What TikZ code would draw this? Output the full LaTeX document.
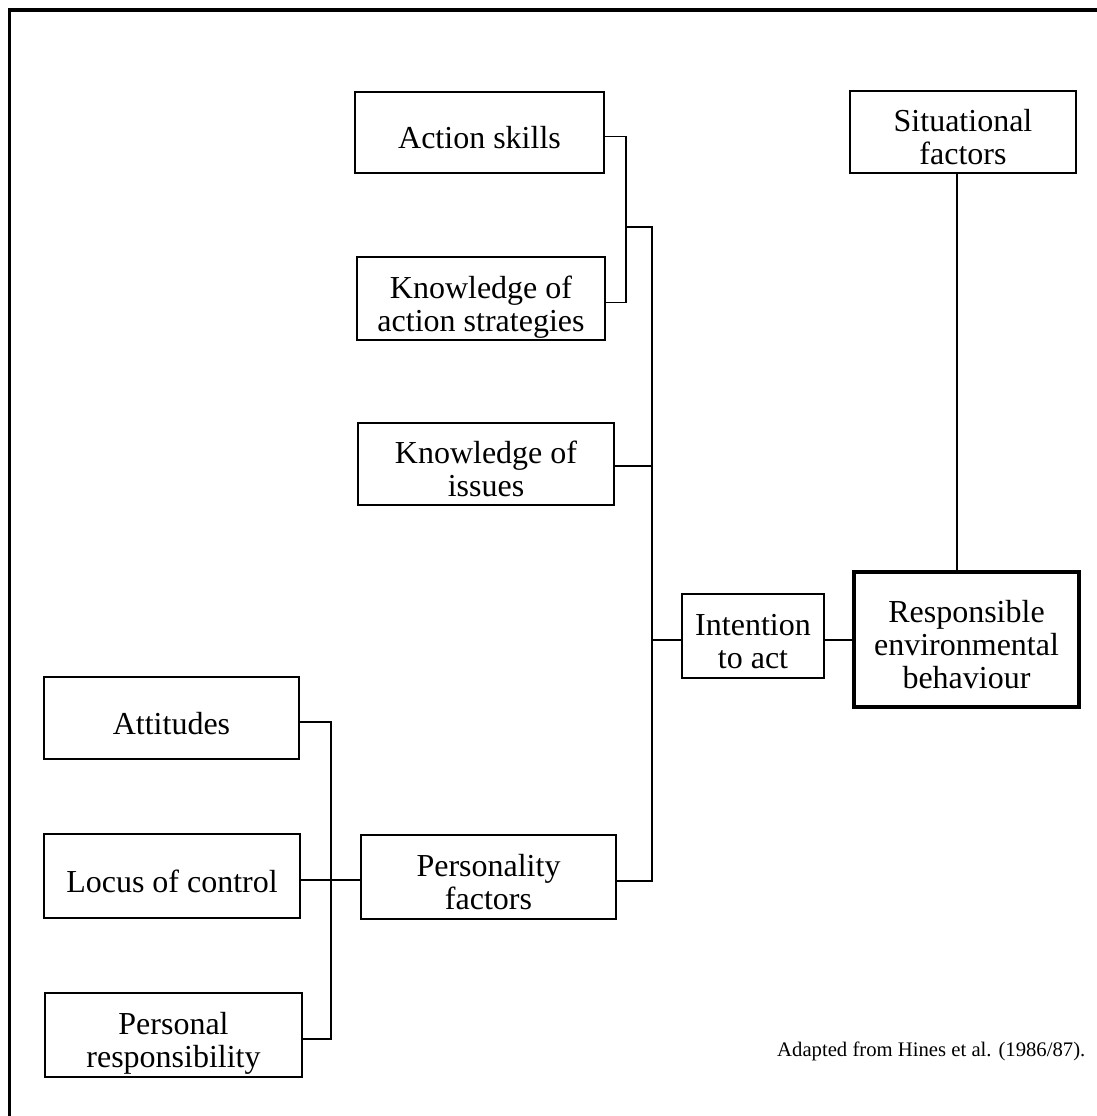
\documentclass[tikz,border=0pt]{standalone}
\usepackage{fontspec}
\setmainfont{Liberation Serif}
% box label: centred lines, set a little below the box centre
\newcommand\boxlabel[1]{\raisebox{-9.5pt}[\height][\depth]{%
  \begin{tabular}{@{}c@{}}#1\end{tabular}}}
\begin{document}
\begin{tikzpicture}[x=1pt,y=-1pt,
  box/.style={draw,line width=1.8pt,inner sep=0pt,
    font=\fontsize{32}{33}\selectfont},
  mainbox/.style={box,line width=4.5pt},
  link/.style={line width=1.7pt},
  frameline/.style={line width=3.5pt}]
\useasboundingbox (0,0) rectangle (1097,1116);
\clip (0,0) rectangle (1097,1116);
% page frame: only its top and left sides fall inside the picture
\draw[frameline] (9.5,1130) -- (9.5,10) -- (1110,10);

% upper branch: skills and knowledge
\node[box,minimum width=249pt,minimum height=81pt] (skills) at (479.5,132.5) {\boxlabel{Action skills}};
\node[box,minimum width=248pt,minimum height=83pt] (strat) at (481,298.5) {\boxlabel{Knowledge of\\action strategies}};
\node[box,minimum width=256pt,minimum height=82pt] (issues) at (486,464) {\boxlabel{Knowledge of\\issues}};

% right side
\node[box,minimum width=226pt,minimum height=82pt] (situ) at (963,132) {\boxlabel{Situational\\factors}};
\node[box,minimum width=142pt,minimum height=84pt] (intent) at (753,636) {\boxlabel{Intention\\to act}};
\node[mainbox,minimum width=225pt,minimum height=135pt] (resp) at (966.5,639.5) {\boxlabel{Responsible\\environmental\\behaviour}};

% lower branch: personality
\node[box,minimum width=255pt,minimum height=82pt] (att) at (171.5,718) {\boxlabel{Attitudes}};
\node[box,minimum width=256pt,minimum height=84pt] (locus) at (172,876) {\boxlabel{Locus of control}};
\node[box,minimum width=257pt,minimum height=84pt] (pers) at (173.5,1035) {\boxlabel{Personal\\responsibility}};
\node[box,minimum width=255pt,minimum height=84pt] (persf) at (488.5,877) {\boxlabel{Personality\\factors}};

% junction points
\coordinate (ja) at (626,227);
\coordinate (jm) at (652,227);
\coordinate (jl) at (331,880);
% connector ends, slightly below the box centres
\coordinate (skillsE) at ([yshift=-4pt]skills.east);
\coordinate (stratE) at ([yshift=-4pt]strat.east);
\coordinate (issuesE) at ([yshift=-2pt]issues.east);
\coordinate (persfE) at ([yshift=-4pt]persf.east);
\coordinate (persfW) at ([yshift=-3pt]persf.west);
\coordinate (intentW) at ([yshift=-4pt]intent.west);
\coordinate (intentE) at ([yshift=-4pt]intent.east);
\coordinate (situS) at ([xshift=-6pt]situ.south);
\coordinate (attE) at ([yshift=-4pt]att.east);
\coordinate (locusE) at ([yshift=-4pt]locus.east);
\coordinate (persE) at ([yshift=-4pt]pers.east);

% connectors
\draw[link] (skillsE) -| (ja) |- (stratE);
\draw[link] (ja) -- (jm) |- (persfE);
\draw[link] (issuesE) -- (issuesE -| jm);
\draw[link] (intentW) -- (intentW -| jm);
\draw[link] (intentE) -- (intentE -| resp.west);
\draw[link] (situS) -- (situS |- resp.north);
\draw[link] (attE) -| (jl) |- (persE);
\draw[link] (locusE) -- (persfW);

% source note
\node[anchor=base west,inner sep=0pt,font=\fontsize{20.7}{24}\selectfont] (note) at (777,1056)
  {Adapted from Hines et al. (1986/87).};
\end{tikzpicture}
\end{document}
